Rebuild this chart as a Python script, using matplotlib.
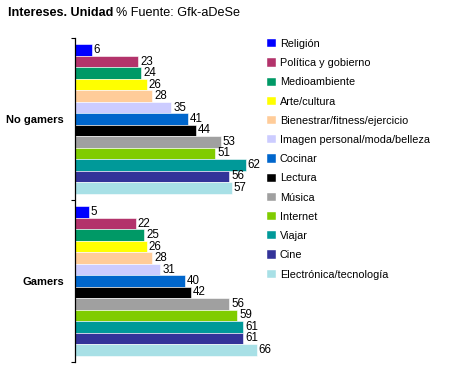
import matplotlib
matplotlib.use("Agg")
import matplotlib.pyplot as plt
from matplotlib.patches import Patch

plt.rcParams['font.family'] = ['Liberation Sans', 'DejaVu Sans']

groups = ["No gamers", "Gamers"]
interests = ["Religión", "Política y gobierno", "Medioambiente", "Arte/cultura",
             "Bienestrar/fitness/ejercicio", "Imagen personal/moda/belleza", "Cocinar",
             "Lectura", "Música", "Internet", "Viajar", "Cine", "Electrónica/tecnología"]
no_gamers = [6, 23, 24, 26, 28, 35, 41, 44, 53, 51, 62, 56, 57]
gamers = [5, 22, 25, 26, 28, 31, 40, 42, 56, 59, 61, 61, 66]
colors = ["#0000FF", "#B3336B", "#009966", "#FFFF00", "#FFCC99", "#CCCCFF", "#0066CC",
          "#000000", "#A0A0A0", "#80CC00", "#009999", "#333399", "#A8E0E6"]

series = [no_gamers, gamers]

fig = plt.figure(figsize=(4.70, 3.71), dpi=100)
ax = fig.add_axes([75/470, 1-362/371, 187/470, (362-38)/371])

n = len(interests)
total = 0.92
w = total / n
for gi, vals in enumerate(series):
    for j, v in enumerate(vals):
        y = gi - total/2 + (j + 0.5) * w
        ax.barh(y, v, height=w, color=colors[j], edgecolor='white', linewidth=0.4)
        ax.text(v + 0.8, y, str(v), va='center', ha='left', fontsize=8.3)

ax.set_xlim(0, 68)
ax.set_ylim(1.5, -0.5)
ax.set_yticks([0, 1])
ax.set_yticklabels(groups, fontweight='bold', fontsize=8)
ax.tick_params(axis='y', which='major', length=0, pad=8)
ax.set_yticks([-0.5, 0.5, 1.5], minor=True)
ax.tick_params(axis='y', which='minor', length=3, width=0.8)
ax.set_xticks([])
for s in ['top', 'right', 'bottom']:
    ax.spines[s].set_visible(False)
ax.spines['left'].set_linewidth(0.9)

t1 = fig.text(8/470, 1-13/371, "Intereses. Unidad", fontweight='bold', fontsize=9.1,
              va='center', ha='left')
fig.canvas.draw()
bb = t1.get_window_extent(renderer=fig.canvas.get_renderer())
x2 = (bb.x1 + 3) / fig.bbox.width
fig.text(x2, 1-13/371, "% Fuente: Gfk-aDeSe", fontsize=9.1, va='center', ha='left')

handles = [Patch(facecolor=c, edgecolor='white', linewidth=0.3) for c in colors]
fig.legend(handles, interests, loc='upper left', bbox_to_anchor=(267/470, 1-39/371),
           frameon=False, fontsize=7.8, handlelength=0.8, handleheight=0.8,
           handletextpad=0.4, labelspacing=0.85, borderpad=0, borderaxespad=0)

fig.savefig("out.png", dpi=100)
